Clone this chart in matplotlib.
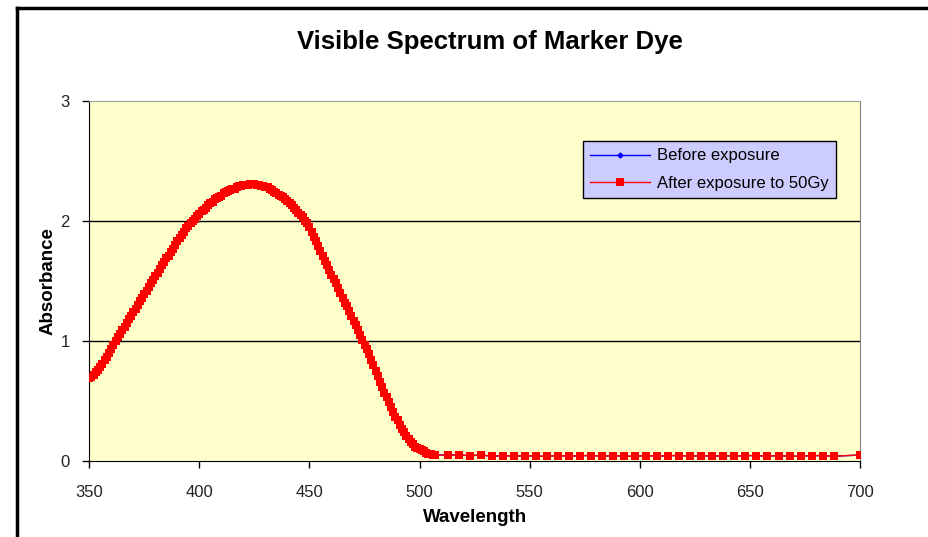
import matplotlib
matplotlib.use("Agg")
import matplotlib.pyplot as plt
from matplotlib.lines import Line2D

plt.rcParams['font.family'] = ['Liberation Sans', 'DejaVu Sans']

# dense scan region, 1 nm steps (350-507 nm)
wl_dense = list(range(350, 508))
abs_dense = [
    0.69, 0.70, 0.72, 0.74, 0.76, 0.78, 0.81, 0.84, 0.87, 0.90,   # 350-359
    0.93, 0.97, 1.00, 1.03, 1.06, 1.09, 1.12, 1.15, 1.18, 1.21,   # 360-369
    1.24, 1.27, 1.30, 1.33, 1.36, 1.39, 1.42, 1.45, 1.48, 1.51,   # 370-379
    1.54, 1.57, 1.60, 1.63, 1.66, 1.69, 1.71, 1.74, 1.77, 1.80,   # 380-389
    1.83, 1.86, 1.88, 1.91, 1.94, 1.96, 1.98, 2.00, 2.02, 2.04,   # 390-399
    2.06, 2.08, 2.09, 2.11, 2.13, 2.15, 2.16, 2.18, 2.19, 2.20,   # 400-409
    2.21, 2.23, 2.24, 2.25, 2.26, 2.27, 2.27, 2.28, 2.29, 2.29,   # 410-419
    2.30, 2.30, 2.30, 2.31, 2.31, 2.31, 2.30, 2.30, 2.29, 2.29,   # 420-429
    2.28, 2.28, 2.27, 2.26, 2.24, 2.23, 2.22, 2.21, 2.20, 2.18,   # 430-439
    2.17, 2.15, 2.13, 2.11, 2.09, 2.07, 2.05, 2.03, 2.00, 1.98,   # 440-449
    1.95, 1.91, 1.87, 1.83, 1.79, 1.75, 1.71, 1.67, 1.63, 1.59,   # 450-459
    1.55, 1.52, 1.48, 1.44, 1.40, 1.36, 1.32, 1.29, 1.25, 1.21,   # 460-469
    1.17, 1.13, 1.09, 1.05, 1.01, 0.97, 0.93, 0.89, 0.84, 0.80,   # 470-479
    0.75, 0.71, 0.66, 0.62, 0.57, 0.53, 0.49, 0.45, 0.41, 0.37,   # 480-489
    0.34, 0.30, 0.27, 0.24, 0.21, 0.18, 0.16, 0.14, 0.12, 0.11,   # 490-499
    0.10, 0.09, 0.08, 0.07, 0.06, 0.055, 0.05, 0.05,              # 500-507
]

# flat tail, 5 nm steps
wl_tail = list(range(513, 689, 5)) + [700]
abs_tail = [0.05, 0.05, 0.045, 0.05, 0.04, 0.045, 0.04, 0.045, 0.04, 0.04,
            0.045, 0.04, 0.045, 0.045, 0.04, 0.045, 0.04, 0.04, 0.045, 0.04,
            0.045, 0.045, 0.04, 0.045, 0.04, 0.045, 0.04, 0.045, 0.045, 0.04,
            0.045, 0.04, 0.04, 0.045, 0.045, 0.04, 0.05]

wavelength = wl_dense + wl_tail
after = abs_dense + abs_tail
before = abs_dense + abs_tail

fig = plt.figure(figsize=(9.29, 5.37), dpi=100)
fig.patch.set_facecolor('white')
ax = fig.add_axes([0.0961, 0.1415, 0.8296, 0.6704])
ax.set_facecolor('#FFFFCC')

ax.plot(wavelength, before, color='#0000FF', lw=1, marker='D', markersize=2.5,
        label='Before exposure', zorder=3)
ax.plot(wavelength, after, color='#FF0000', lw=1, marker='s', markersize=5.5,
        markeredgewidth=0, label='After exposure to 50Gy', zorder=4)

ax.set_xlim(350, 700)
ax.set_ylim(0, 3)
ax.set_xticks([350, 400, 450, 500, 550, 600, 650, 700])
ax.set_yticks([0, 1, 2, 3])
for y in [1, 2]:
    ax.axhline(y, color='black', lw=1, zorder=1)

ax.spines['left'].set_color('black')
ax.spines['bottom'].set_color('black')
ax.spines['top'].set_color('#A0A0A0')
ax.spines['right'].set_color('#808080')
ax.tick_params(direction='out', length=5, width=1, colors='black',
               labelsize=12, labelcolor='#222222')
ax.tick_params(axis='x', pad=12)
ax.tick_params(axis='y', pad=9)

ax.set_xlabel('Wavelength', fontsize=13.5, fontweight='bold', labelpad=7)
ax.set_ylabel('Absorbance', fontsize=13.5, fontweight='bold', labelpad=3)
fig.text(0.527, 0.922, 'Visible Spectrum of Marker Dye', ha='center',
         va='center', fontsize=18.5, fontweight='bold')

leg = ax.legend(loc='upper right', bbox_to_anchor=(0.969, 0.889),
                fontsize=12, frameon=True, fancybox=False,
                handlelength=3.6, handletextpad=0.4, borderpad=0.45,
                labelspacing=0.75, borderaxespad=0)
leg.get_frame().set_facecolor('#CCCCFF')
leg.get_frame().set_edgecolor('black')
leg.get_frame().set_alpha(1)

# outer chart border (top and left edges)
fig.add_artist(Line2D([0.0183, 1.0], [0.985, 0.985], color='black', lw=2.5))
fig.add_artist(Line2D([0.0183, 0.0183], [0.0, 0.985], color='black', lw=2.5))

fig.savefig('out.png', dpi=100)
